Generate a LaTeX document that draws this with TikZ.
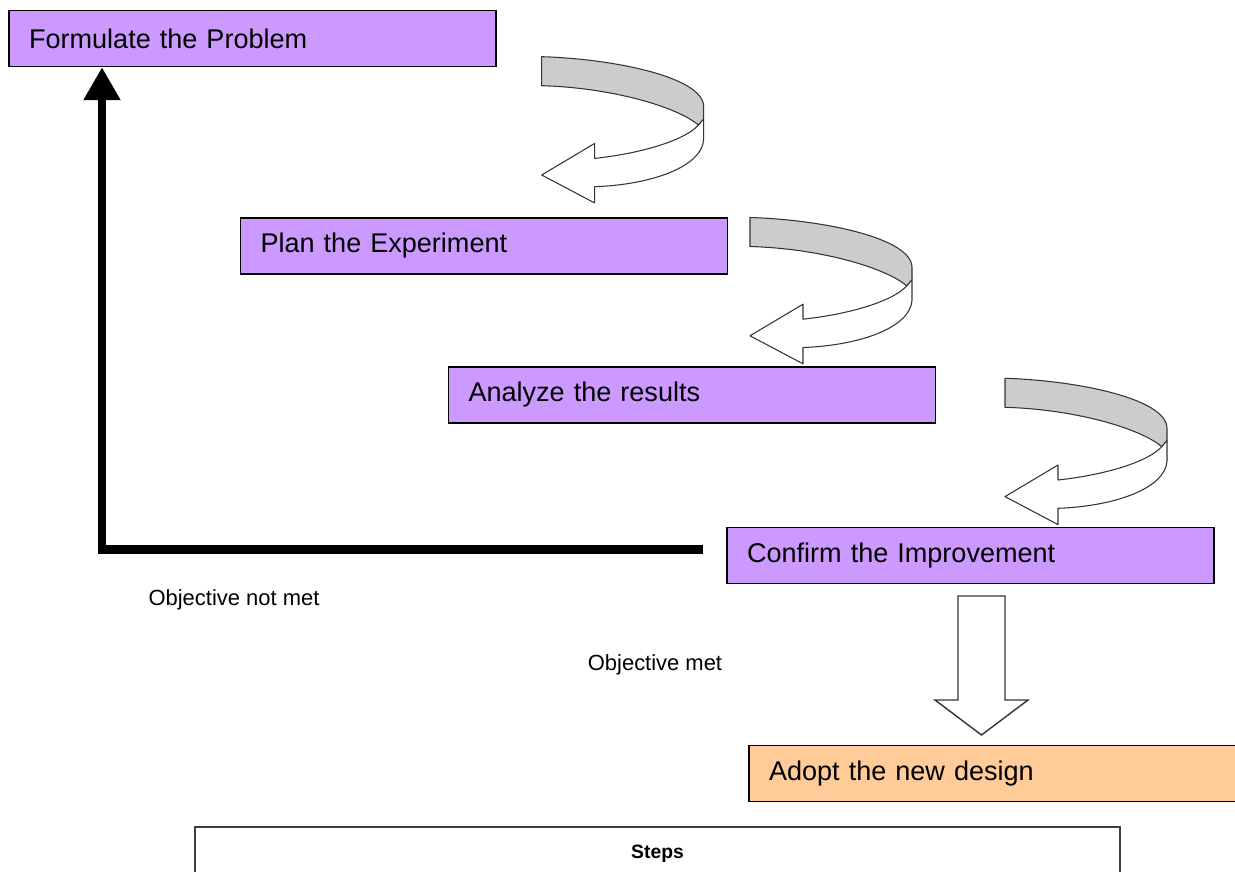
\documentclass[tikz,border=0pt]{standalone}
\usepackage{fontspec}
\setmainfont{Liberation Sans}
\usetikzlibrary{arrows.meta, positioning}
\definecolor{lilac}{HTML}{CC99FF}
\definecolor{peach}{HTML}{FFCC99}
\definecolor{band}{HTML}{CCCCCC}

\tikzset{
    curl/.pic={
        \draw[ribbon, fill=white] (53,101.7) .. controls (105,96) and (145,82) .. (156.7,68.3) -- (162,62) -- (162,83)
            .. controls (160,110) and (110,128) .. (53,130) -- (53,146.3) -- (0,118.3) -- (53,86.7) -- cycle;
        \draw[ribbon, fill=band] (0,0) .. controls (70,2) and (162,20) .. (162,50) -- (162,62) -- (156.7,68.3)
            .. controls (135,50) and (70,31) .. (0,29) -- cycle;
    }
}

\begin{document}
\begin{tikzpicture}[
    x=0.02cm, y=-0.02cm,
    every node/.style={font=\fontsize{15.4}{18}\selectfont},
    stage/.style={draw, line width=0.8pt, fill=lilac, minimum height=1.12cm, text width=8.94cm, inner xsep=0.4cm, align=left},
    ribbon/.style={draw=black!80, line width=0.6pt, line join=round},
    loopback/.style={line width=0.18cm, line join=miter, -{Triangle[width=0.7cm, length=0.66cm]}},
    blockdown/.style={draw=black!80, line width=0.8pt, fill=white},
    note/.style={font=\fontsize{12.5}{15}\selectfont},
]
\clip (0,0) rectangle (1235,872);
\node[stage] (formulate) at (252.5,38.5) {Formulate the Problem};
\node[stage] (plan) at (484,246) {Plan the Experiment};
\node[stage] (analyze) at (692,395) {Analyze the results};
\node[stage] (confirm) at (970.5,555.5) {Confirm the Improvement};
\node[stage, fill=peach] (adopt) at (992.5,773.5) {Adopt the new design};
\node[draw=black!75, line width=0.8pt, fill=white, minimum width=18.5cm, minimum height=1.06cm, font=\bfseries\fontsize{11}{13}\selectfont] (steps) at (657.5,853.5) {Steps};
\pic at (541.7,56.7) {curl};
\pic at (750,217.5) {curl};
\pic at (1005,378.3) {curl};
\coordinate (notmet) at (703,549);
\coordinate (corner) at (102,549);
\draw[loopback] (notmet) -- (corner) -- (corner |- formulate.south);
\coordinate (dtop) at (981.5,596);
\draw[blockdown] (dtop) ++(-23.5,0) -- ++(47,0) -- ++(0,104) -- ++(23,0) -- ++(-46.5,35) -- ++(-46.5,-35) -- ++(23,0) -- cycle;
\node[note] (notmetlabel) at (234,600) {Objective not met};
\node[note] (metlabel) at (655,665) {Objective met};
\end{tikzpicture}
\end{document}
